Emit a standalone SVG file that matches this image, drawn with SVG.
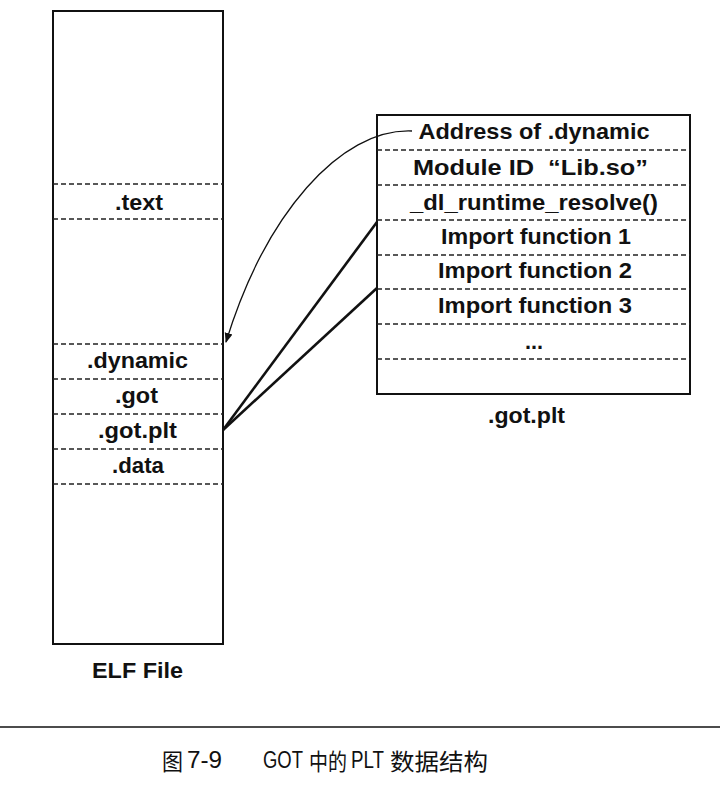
<svg xmlns="http://www.w3.org/2000/svg" width="720" height="796" viewBox="0 0 720 796">
<style>
.box{fill:none;stroke:#111;stroke-width:2}
.dash{stroke:#222;stroke-width:1.3;stroke-dasharray:5,3}
.lbl{font-family:"Liberation Sans",Arial,sans-serif;font-weight:bold;font-size:21.5px;fill:#111;text-anchor:middle}
.cap{font-family:"Liberation Sans","Noto Sans CJK SC",sans-serif;font-size:23px;fill:#111}
.conn{fill:none;stroke:#111}
</style>
<defs>
<marker id="arr" viewBox="0 0 10 10" refX="9" refY="5" markerWidth="10" markerHeight="10" orient="auto" markerUnits="userSpaceOnUse">
<path d="M0,1 L10,5 L0,9 z" fill="#111"/>
</marker>
</defs>
<rect width="720" height="796" fill="#fff"/>
<g id="elf">
<rect class="box" x="53" y="11" width="170" height="633"/>
<line class="dash" x1="53" y1="184" x2="223" y2="184"/>
<line class="dash" x1="53" y1="219" x2="223" y2="219"/>
<line class="dash" x1="53" y1="344" x2="223" y2="344"/>
<line class="dash" x1="53" y1="379" x2="223" y2="379"/>
<line class="dash" x1="53" y1="414" x2="223" y2="414"/>
<line class="dash" x1="53" y1="449" x2="223" y2="449"/>
<line class="dash" x1="53" y1="484" x2="223" y2="484"/>
<text class="lbl" x="139" y="210" textLength="48" lengthAdjust="spacingAndGlyphs">.text</text>
<text class="lbl" x="137.5" y="368" textLength="101" lengthAdjust="spacingAndGlyphs">.dynamic</text>
<text class="lbl" x="136.5" y="403" textLength="43" lengthAdjust="spacingAndGlyphs">.got</text>
<text class="lbl" x="137.5" y="438" textLength="79" lengthAdjust="spacingAndGlyphs">.got.plt</text>
<text class="lbl" x="138" y="473" textLength="52" lengthAdjust="spacingAndGlyphs">.data</text>
<text class="lbl" x="137.5" y="678" textLength="91" lengthAdjust="spacingAndGlyphs">ELF File</text>
</g>
<g id="gotplt">
<rect class="box" x="377" y="115" width="313" height="279"/>
<line class="dash" x1="377" y1="150" x2="690" y2="150"/>
<line class="dash" x1="377" y1="185" x2="690" y2="185"/>
<line class="dash" x1="377" y1="220" x2="690" y2="220"/>
<line class="dash" x1="377" y1="255" x2="690" y2="255"/>
<line class="dash" x1="377" y1="289" x2="690" y2="289"/>
<line class="dash" x1="377" y1="324" x2="690" y2="324"/>
<line class="dash" x1="377" y1="359" x2="690" y2="359"/>
<text class="lbl" x="534" y="139" textLength="231" lengthAdjust="spacingAndGlyphs">Address of .dynamic</text>
<text class="lbl" x="530.5" y="175" textLength="235" lengthAdjust="spacingAndGlyphs" xml:space="preserve">Module ID  “Lib.so”</text>
<text class="lbl" x="534" y="210" textLength="248" lengthAdjust="spacingAndGlyphs">_dl_runtime_resolve()</text>
<text class="lbl" x="536" y="244" textLength="190" lengthAdjust="spacingAndGlyphs">Import function 1</text>
<text class="lbl" x="535" y="278" textLength="194" lengthAdjust="spacingAndGlyphs">Import function 2</text>
<text class="lbl" x="535" y="313" textLength="194" lengthAdjust="spacingAndGlyphs">Import function 3</text>
<text class="lbl" x="534" y="349" textLength="18" lengthAdjust="spacingAndGlyphs">...</text>
<text class="lbl" x="526.5" y="423" textLength="77" lengthAdjust="spacingAndGlyphs">.got.plt</text>
</g>
<g id="connectors">
<path class="conn" stroke-width="1.3" d="M412,131 C340,128 265,215 226,342" marker-end="url(#arr)"/>
<line class="conn" stroke-width="2.6" x1="377" y1="222" x2="223" y2="430"/>
<line class="conn" stroke-width="2.6" x1="377" y1="288" x2="223" y2="430"/>
</g>
<g id="caption">
<line x1="0" y1="727" x2="720" y2="727" stroke="#111" stroke-width="1.5"/>
<text class="cap" x="162" y="770" textLength="21" lengthAdjust="spacingAndGlyphs">图</text>
<text class="cap" x="187" y="768" textLength="35" lengthAdjust="spacingAndGlyphs">7-9</text>
<text class="cap" x="263" y="768" textLength="40" lengthAdjust="spacingAndGlyphs">GOT</text>
<text class="cap" x="309" y="770" textLength="38" lengthAdjust="spacingAndGlyphs">中的</text>
<text class="cap" x="351" y="768" textLength="33" lengthAdjust="spacingAndGlyphs">PLT</text>
<text class="cap" x="390" y="770" textLength="98" lengthAdjust="spacingAndGlyphs">数据结构</text>
</g>
</svg>
